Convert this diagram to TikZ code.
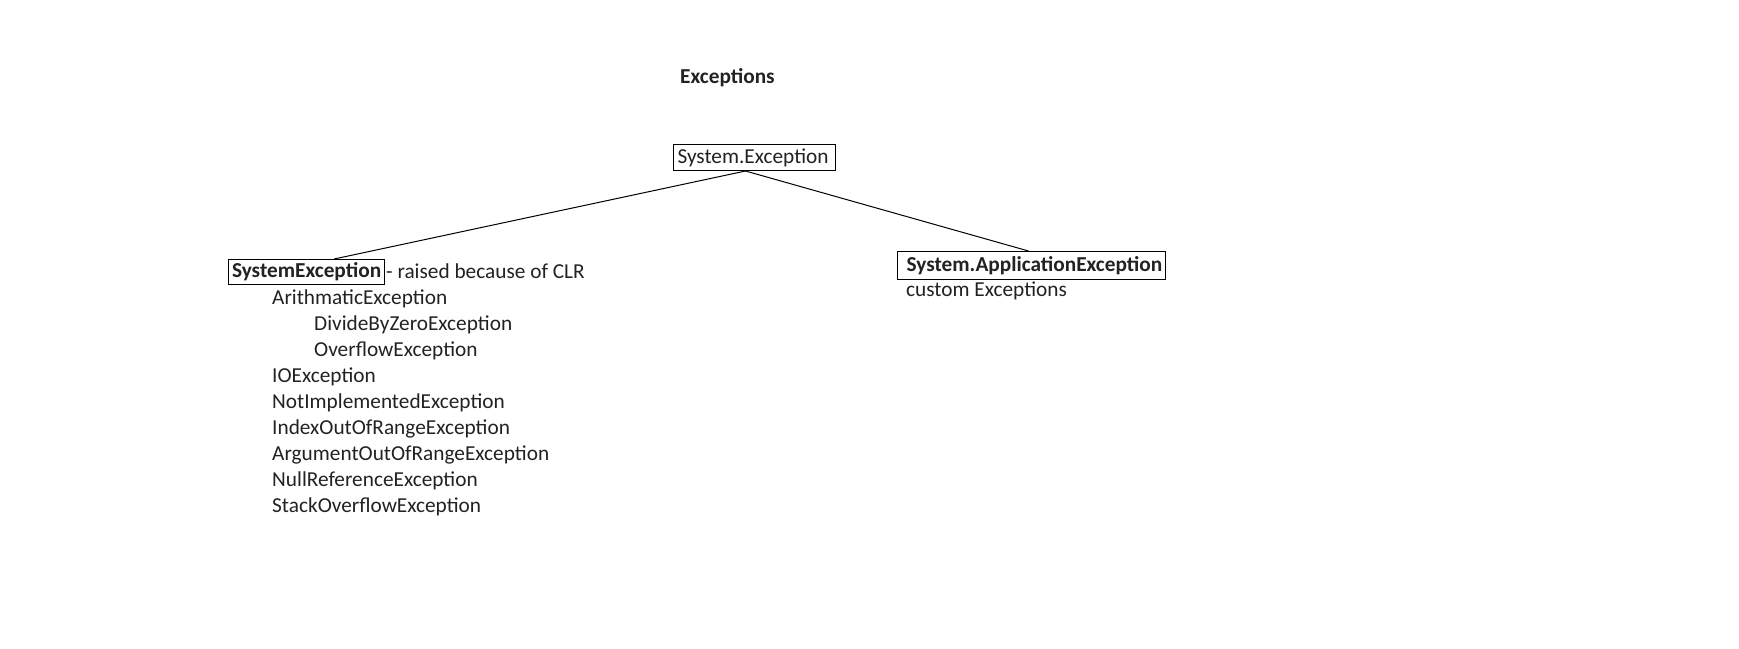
\documentclass[tikz,border=0pt]{standalone}
\usepackage{fontspec}
\setmainfont{Carlito}
\definecolor{txt}{HTML}{222222}
\begin{document}
\begin{tikzpicture}[x=1pt,y=-1pt,
  every node/.style={font=\fontsize{21.3}{26}\selectfont, text=txt, inner sep=0pt},
  lbl/.style={anchor=base west},
  box/.style={draw=black, line width=1pt, anchor=north west, align=left},
  conn/.style={draw=black, line width=1pt}]
\useasboundingbox (0,0) rectangle (1739,648);
\node[lbl, font=\fontsize{21.3}{26}\selectfont\bfseries] (title) at (680,83) {Exceptions};
\node[box, inner xsep=4pt, text width=154pt, minimum height=26pt] (root) at (673,144) {\mbox{System.Exception}};
\node[box, inner xsep=3.5pt, minimum height=25pt, font=\fontsize{21.3}{26}\selectfont\bfseries] (sysex) at (228,259) {SystemException};
\node[box, inner xsep=4.5pt, text width=259pt, minimum height=28pt, font=\fontsize{21.3}{26}\selectfont\bfseries] (app) at (897,251) {\mbox{\hspace*{4.5pt}System.ApplicationException}};
\draw[conn] ([xshift=-9pt]root.south) -- ([xshift=27.5pt]sysex.north);
\draw[conn] ([xshift=-9pt]root.south) -- ([xshift=-3pt]app.north);
\node[lbl] (clr) at (386,278) {- raised because of CLR};
\node[lbl] (arith) at (272,304) {ArithmaticException};
\node[lbl] (divz) at (314,330) {DivideByZeroException};
\node[lbl] (ovf) at (314,356) {OverflowException};
\node[lbl] (io) at (272,382) {IOException};
\node[lbl] (notimpl) at (272,408) {NotImplementedException};
\node[lbl] (idx) at (272,434) {IndexOutOfRangeException};
\node[lbl] (arg) at (272,460) {ArgumentOutOfRangeException};
\node[lbl] (nullref) at (272,486) {NullReferenceException};
\node[lbl] (stack) at (272,512) {StackOverflowException};
\node[lbl] (custom) at (906,296) {custom Exceptions};
\end{tikzpicture}
\end{document}
